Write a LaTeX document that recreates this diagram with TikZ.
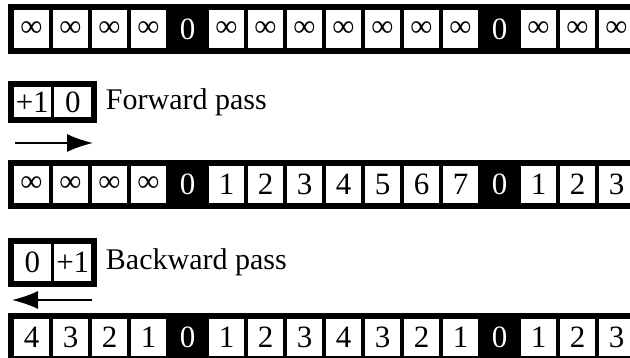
\documentclass[tikz,border=0pt]{standalone}
\usepackage{fontspec}
\setmainfont{Liberation Serif}
\usetikzlibrary{arrows.meta, positioning}

\newcommand{\infsym}{{\fontsize{31}{32}\selectfont ∞}}

\begin{document}
\begin{tikzpicture}[
		x=1pt, y=-1pt,
		>={Latex[length=26pt,width=18pt]},
		cell/.style={rectangle, draw, line width=3.5pt, minimum width=39pt, minimum height=41pt, inner sep=0pt, font=\fontsize{31}{32}\selectfont},
		zero/.style={cell, fill=black, text=white},
		pair/.style={rectangle, draw, line width=3.5pt, minimum width=40.5pt, inner sep=0pt, font=\fontsize{31}{32}\selectfont},
		frame/.style={line width=5pt},
		label/.style={font=\fontsize{30}{32}\selectfont, anchor=west, inner sep=0pt},
		pass/.style={->, line width=1.6pt}
		]
		\useasboundingbox (0,0) rectangle (630,358);
		\clip (0,0) rectangle (630,358);
		
		% Input row
		\foreach \v [count=\i] in {\infsym,\infsym,\infsym,\infsym,0,\infsym,\infsym,\infsym,\infsym,\infsym,\infsym,\infsym,0,\infsym,\infsym,\infsym} {
			\ifnum\i=5 \def\s{zero}\else\ifnum\i=13 \def\s{zero}\else\def\s{cell}\fi\fi
			\node[\s] (a\i) at ({31.5+39*(\i-1)}, 29) {\v};
		}
		\draw[frame] (a1.north west) rectangle (a16.south east);
		
		% Forward pass
		\node[pair, minimum height=34pt] (fplus) at (32.25,102) {+1};
		\node[pair, minimum height=34pt] (fzero) at (72.75,102) {0};
		\draw[frame] (fplus.north west) rectangle (fzero.south east);
		\node[label, right=11pt of fzero] (fwd) {Forward pass};
		\coordinate (ftail) at (15,143);
		\coordinate (fhead) at (93,143);
		\draw[pass] (ftail) -- (fhead);
		
		\foreach \v [count=\i] in {\infsym,\infsym,\infsym,\infsym,0,1,2,3,4,5,6,7,0,1,2,3} {
			\ifnum\i=5 \def\s{zero}\else\ifnum\i=13 \def\s{zero}\else\def\s{cell}\fi\fi
			\node[\s] (b\i) at ({31.5+39*(\i-1)}, 184.5) {\v};
		}
		\draw[frame] (b1.north west) rectangle (b16.south east);
		
		% Backward pass
		\node[pair, minimum height=40pt] (bzero) at (32.25,262.5) {0};
		\node[pair, minimum height=40pt] (bplus) at (72.75,262.5) {+1};
		\draw[frame] (bzero.north west) rectangle (bplus.south east);
		\node[label, right=11pt of bplus] (bwd) {Backward pass};
		\coordinate (btail) at (92,300);
		\coordinate (bhead) at (12,300);
		\draw[pass] (btail) -- (bhead);
		
		\foreach \v [count=\i] in {4,3,2,1,0,1,2,3,4,3,2,1,0,1,2,3} {
			\ifnum\i=5 \def\s{zero}\else\ifnum\i=13 \def\s{zero}\else\def\s{cell}\fi\fi
			\node[\s] (c\i) at ({31.5+39*(\i-1)}, 337.5) {\v};
		}
		\draw[frame] (c1.north west) rectangle (c16.south east);
		
	\end{tikzpicture}
\end{document}
